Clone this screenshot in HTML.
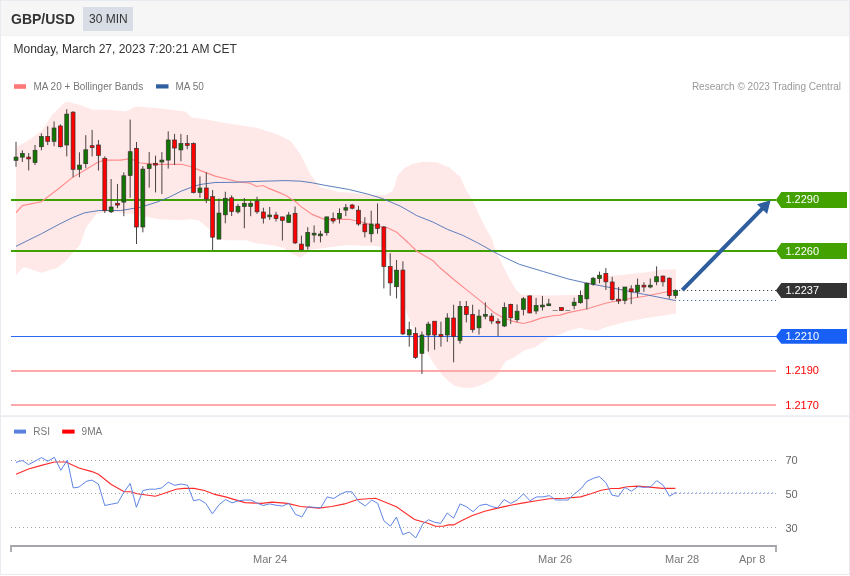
<!DOCTYPE html>
<html><head><meta charset="utf-8"><title>GBP/USD</title>
<style>html,body{margin:0;padding:0;background:#fff;width:850px;height:576px;overflow:hidden}svg{display:block;will-change:transform}text{font-family:"Liberation Sans",sans-serif}</style>
</head><body>
<svg width="850" height="576" viewBox="0 0 850 576" font-family="Liberation Sans, sans-serif">
<rect x="0" y="0" width="850" height="576" fill="#ffffff"/>
<rect x="0" y="0" width="850" height="36" fill="#f6f6f6"/>
<rect x="0" y="35" width="850" height="1" fill="#f1f2f3"/>
<rect x="83" y="7" width="50" height="24" fill="#d9dde5"/>
<text x="11" y="23.5" font-size="14" font-weight="bold" fill="#333">GBP/USD</text>
<text x="89" y="23" font-size="12" fill="#333">30 MIN</text>
<text x="13.5" y="53" font-size="12" fill="#333">Monday, March 27, 2023 7:20:21 AM CET</text>
<rect x="0.5" y="0.5" width="849" height="574" fill="none" stroke="#e8ecf0" stroke-width="1"/>
<rect x="1" y="415.3" width="848" height="1.7" fill="#e9edf1"/>
<rect x="14" y="84.2" width="12" height="4.6" fill="#ff7878"/>
<text x="33.4" y="89.7" font-size="10" fill="#777">MA 20 + Bollinger Bands</text>
<rect x="156" y="84.3" width="12.5" height="4.2" fill="#2f5f9f"/>
<text x="175.5" y="89.7" font-size="10" fill="#777">MA 50</text>
<text x="841" y="89.7" font-size="10" fill="#999" text-anchor="end">Research © 2023 Trading Central</text>
<polygon points="16.0,147.0 23.9,143.0 33.6,136.8 42.0,130.6 47.0,123.0 51.7,115.3 57.2,109.7 62.0,105.0 66.6,101.5 79.8,104.9 92.9,109.8 109.4,109.8 125.9,111.5 135.8,106.5 158.8,108.2 185.2,111.5 191.8,117.4 208.2,119.7 224.7,123.0 257.6,127.9 277.4,134.5 290.6,141.1 300.4,154.3 310.3,174.0 320.2,187.2 340.0,192.2 348.6,192.5 372.9,195.0 385.1,195.0 392.4,191.3 395.0,185.0 397.4,176.0 403.9,168.2 412.6,163.9 423.4,161.7 436.4,162.2 449.4,167.4 460.3,176.9 465.9,190.0 472.5,199.9 479.1,214.7 485.7,227.9 492.3,239.4 495.0,249.7 502.3,264.3 509.6,278.9 516.9,291.0 521.7,294.7 531.8,294.8 549.1,295.4 568.2,295.0 580.5,295.0 586.8,282.0 596.8,278.2 606.4,276.3 625.5,274.4 644.6,272.5 663.7,269.6 676.0,269.6 676.0,313.5 663.7,315.4 644.6,318.3 625.5,322.1 606.4,326.9 596.8,330.7 587.3,329.7 579.6,327.8 568.2,330.7 560.0,334.5 550.1,337.0 541.9,342.4 535.3,347.3 523.8,350.6 515.6,356.4 505.7,361.3 502.4,366.2 499.1,372.8 492.5,379.4 482.6,384.4 472.7,387.7 462.8,387.7 454.6,386.0 449.7,382.0 441.4,374.0 433.0,362.5 422.1,343.0 411.7,326.0 403.9,305.1 397.0,282.0 390.0,262.0 383.2,249.6 380.6,247.0 374.1,245.7 361.2,245.7 348.2,245.1 335.3,246.4 322.4,248.3 310.7,249.6 308.1,252.8 300.4,257.4 290.0,252.8 283.5,247.7 274.1,245.8 264.7,244.3 255.3,243.0 245.9,240.2 227.0,240.2 217.6,238.3 208.2,228.0 198.8,220.4 189.4,219.1 181.5,220.2 157.2,219.0 133.0,214.0 108.6,211.7 96.5,214.0 86.1,227.2 80.0,244.7 64.7,261.9 56.9,268.0 41.3,272.8 25.0,267.3 22.5,268.1 16.0,275.2" fill="#ffe8e8"/>
<rect x="11" y="199" width="765" height="2" fill="#40a000"/>
<rect x="11" y="250" width="765" height="2" fill="#40a000"/>
<rect x="11" y="336" width="765" height="1" fill="#2a6af2"/>
<rect x="11" y="370" width="765" height="2" fill="#ffaaaa"/>
<rect x="11" y="404" width="765" height="2" fill="#ffaaaa"/>
<polyline points="16.0,212.5 22.5,205.6 41.3,201.7 56.9,190.0 72.2,177.6 84.3,170.4 96.5,163.0 103.8,160.1 120.8,160.1 130.5,158.7 140.2,163.0 157.2,164.3 181.5,164.3 191.3,166.7 200.0,170.4 215.2,176.1 236.7,181.5 250.0,183.2 256.6,186.5 263.2,185.5 268.8,188.4 278.2,192.1 285.4,195.2 296.7,202.5 300.0,205.9 312.2,214.4 324.3,219.3 348.6,219.3 360.8,221.7 372.9,225.4 387.5,227.8 397.2,232.6 400.0,235.3 408.2,242.7 416.5,251.0 433.0,260.8 440.0,267.8 454.1,279.8 468.2,291.1 482.4,302.4 493.6,312.2 503.5,317.9 513.4,321.4 523.3,323.5 531.8,321.4 541.6,317.9 552.9,315.8 560.0,315.1 568.2,312.6 587.3,308.7 606.4,303.0 625.5,299.2 644.6,296.3 663.7,292.5 676.0,290.0" fill="none" stroke="#ff8c8c" stroke-width="1.15"/>
<polyline points="16.0,246.3 41.3,233.8 60.0,223.8 72.2,217.8 84.3,212.9 98.9,210.5 120.8,210.5 140.2,207.3 157.2,202.0 169.4,197.1 181.5,191.0 191.3,187.4 200.0,184.5 215.0,182.5 235.0,182.3 260.0,181.3 285.0,180.6 300.0,181.1 312.2,182.8 324.3,185.2 348.6,189.4 368.1,194.2 382.6,198.6 400.0,206.0 408.2,210.6 416.5,215.5 433.0,222.1 447.8,229.5 462.6,235.3 477.4,242.7 492.3,251.0 502.1,256.2 519.3,264.3 543.6,271.6 567.9,278.9 587.4,283.3 606.4,286.8 625.5,290.6 644.6,294.4 663.7,298.2 676.0,300.7" fill="none" stroke="#4a72b5" stroke-width="0.9"/>
<line x1="16.00" y1="141.8" x2="16.00" y2="166.8" stroke="#4a4242" stroke-width="1"/>
<rect x="14.05" y="157.1" width="3.9" height="3.2" fill="#107800" stroke="#3a3030" stroke-width="0.7"/>
<line x1="22.34" y1="150.3" x2="22.34" y2="162.0" stroke="#4a4242" stroke-width="1"/>
<rect x="20.39" y="153.5" width="3.9" height="3.6" fill="#107800" stroke="#3a3030" stroke-width="0.7"/>
<line x1="28.69" y1="153.0" x2="28.69" y2="170.5" stroke="#4a4242" stroke-width="1"/>
<rect x="26.74" y="157.1" width="3.9" height="1.8" fill="#ff0000" stroke="#3a3030" stroke-width="0.7"/>
<line x1="35.03" y1="145.0" x2="35.03" y2="165.0" stroke="#4a4242" stroke-width="1"/>
<rect x="33.08" y="150.3" width="3.9" height="12.2" fill="#107800" stroke="#3a3030" stroke-width="0.7"/>
<line x1="41.37" y1="133.3" x2="41.37" y2="150.3" stroke="#4a4242" stroke-width="1"/>
<rect x="39.42" y="136.5" width="3.9" height="10.2" fill="#107800" stroke="#3a3030" stroke-width="0.7"/>
<line x1="47.71" y1="126.3" x2="47.71" y2="145.0" stroke="#4a4242" stroke-width="1"/>
<rect x="45.76" y="136.5" width="3.9" height="4.8" fill="#ff0000" stroke="#3a3030" stroke-width="0.7"/>
<line x1="54.06" y1="121.4" x2="54.06" y2="146.2" stroke="#4a4242" stroke-width="1"/>
<rect x="52.11" y="128.0" width="3.9" height="13.3" fill="#107800" stroke="#3a3030" stroke-width="0.7"/>
<line x1="60.40" y1="124.3" x2="60.40" y2="147.4" stroke="#4a4242" stroke-width="1"/>
<rect x="58.45" y="126.0" width="3.9" height="20.7" fill="#ff0000" stroke="#3a3030" stroke-width="0.7"/>
<line x1="66.74" y1="109.2" x2="66.74" y2="156.4" stroke="#4a4242" stroke-width="1"/>
<rect x="64.79" y="114.1" width="3.9" height="30.9" fill="#107800" stroke="#3a3030" stroke-width="0.7"/>
<line x1="73.08" y1="111.0" x2="73.08" y2="177.3" stroke="#4a4242" stroke-width="1"/>
<rect x="71.13" y="112.2" width="3.9" height="57.1" fill="#ff0000" stroke="#3a3030" stroke-width="0.7"/>
<line x1="79.43" y1="152.3" x2="79.43" y2="177.3" stroke="#4a4242" stroke-width="1"/>
<rect x="77.48" y="165.1" width="3.9" height="4.2" fill="#107800" stroke="#3a3030" stroke-width="0.7"/>
<line x1="85.77" y1="135.2" x2="85.77" y2="168.1" stroke="#4a4242" stroke-width="1"/>
<rect x="83.82" y="149.8" width="3.9" height="13.9" fill="#107800" stroke="#3a3030" stroke-width="0.7"/>
<line x1="92.11" y1="129.9" x2="92.11" y2="156.4" stroke="#4a4242" stroke-width="1"/>
<rect x="90.16" y="145.7" width="3.9" height="1.8" fill="#ff0000" stroke="#3a3030" stroke-width="0.7"/>
<line x1="98.45" y1="140.1" x2="98.45" y2="170.5" stroke="#4a4242" stroke-width="1"/>
<rect x="96.50" y="145.0" width="3.9" height="10.4" fill="#ff0000" stroke="#3a3030" stroke-width="0.7"/>
<line x1="104.80" y1="156.4" x2="104.80" y2="213.0" stroke="#4a4242" stroke-width="1"/>
<rect x="102.85" y="158.3" width="3.9" height="52.3" fill="#ff0000" stroke="#3a3030" stroke-width="0.7"/>
<line x1="111.14" y1="179.0" x2="111.14" y2="213.0" stroke="#4a4242" stroke-width="1"/>
<rect x="109.19" y="207.0" width="3.9" height="4.8" fill="#107800" stroke="#3a3030" stroke-width="0.7"/>
<line x1="117.48" y1="183.9" x2="117.48" y2="208.2" stroke="#4a4242" stroke-width="1"/>
<rect x="115.53" y="203.3" width="3.9" height="1.8" fill="#ff0000" stroke="#3a3030" stroke-width="0.7"/>
<line x1="123.82" y1="172.4" x2="123.82" y2="216.2" stroke="#4a4242" stroke-width="1"/>
<rect x="121.87" y="175.8" width="3.9" height="26.3" fill="#107800" stroke="#3a3030" stroke-width="0.7"/>
<line x1="130.17" y1="119.6" x2="130.17" y2="197.8" stroke="#4a4242" stroke-width="1"/>
<rect x="128.22" y="151.7" width="3.9" height="23.7" fill="#107800" stroke="#3a3030" stroke-width="0.7"/>
<line x1="136.51" y1="142.0" x2="136.51" y2="244.0" stroke="#4a4242" stroke-width="1"/>
<rect x="134.56" y="148.4" width="3.9" height="78.6" fill="#ff0000" stroke="#3a3030" stroke-width="0.7"/>
<line x1="142.85" y1="166.2" x2="142.85" y2="232.3" stroke="#4a4242" stroke-width="1"/>
<rect x="140.90" y="169.1" width="3.9" height="57.9" fill="#107800" stroke="#3a3030" stroke-width="0.7"/>
<line x1="149.19" y1="152.1" x2="149.19" y2="187.6" stroke="#4a4242" stroke-width="1"/>
<rect x="147.24" y="164.2" width="3.9" height="4.4" fill="#107800" stroke="#3a3030" stroke-width="0.7"/>
<line x1="155.54" y1="155.7" x2="155.54" y2="192.4" stroke="#4a4242" stroke-width="1"/>
<rect x="153.59" y="163.3" width="3.9" height="1.8" fill="#ff0000" stroke="#3a3030" stroke-width="0.7"/>
<line x1="161.88" y1="152.1" x2="161.88" y2="194.1" stroke="#4a4242" stroke-width="1"/>
<rect x="159.93" y="160.1" width="3.9" height="1.9" fill="#107800" stroke="#3a3030" stroke-width="0.7"/>
<line x1="168.22" y1="131.4" x2="168.22" y2="168.6" stroke="#4a4242" stroke-width="1"/>
<rect x="166.27" y="140.0" width="3.9" height="20.1" fill="#107800" stroke="#3a3030" stroke-width="0.7"/>
<line x1="174.56" y1="133.9" x2="174.56" y2="165.0" stroke="#4a4242" stroke-width="1"/>
<rect x="172.62" y="140.0" width="3.9" height="8.0" fill="#ff0000" stroke="#3a3030" stroke-width="0.7"/>
<line x1="180.91" y1="133.9" x2="180.91" y2="161.3" stroke="#4a4242" stroke-width="1"/>
<rect x="178.96" y="143.6" width="3.9" height="6.3" fill="#107800" stroke="#3a3030" stroke-width="0.7"/>
<line x1="187.25" y1="135.0" x2="187.25" y2="149.2" stroke="#4a4242" stroke-width="1"/>
<rect x="185.30" y="143.6" width="3.9" height="1.8" fill="#ff0000" stroke="#3a3030" stroke-width="0.7"/>
<line x1="193.59" y1="142.4" x2="193.59" y2="193.4" stroke="#4a4242" stroke-width="1"/>
<rect x="191.64" y="143.6" width="3.9" height="48.8" fill="#ff0000" stroke="#3a3030" stroke-width="0.7"/>
<line x1="199.94" y1="176.4" x2="199.94" y2="197.8" stroke="#4a4242" stroke-width="1"/>
<rect x="197.99" y="188.0" width="3.9" height="4.4" fill="#107800" stroke="#3a3030" stroke-width="0.7"/>
<line x1="206.28" y1="172.3" x2="206.28" y2="203.1" stroke="#4a4242" stroke-width="1"/>
<rect x="204.33" y="188.0" width="3.9" height="11.0" fill="#ff0000" stroke="#3a3030" stroke-width="0.7"/>
<line x1="212.62" y1="190.0" x2="212.62" y2="250.0" stroke="#4a4242" stroke-width="1"/>
<rect x="210.67" y="196.6" width="3.9" height="40.6" fill="#ff0000" stroke="#3a3030" stroke-width="0.7"/>
<line x1="218.96" y1="198.5" x2="218.96" y2="239.1" stroke="#4a4242" stroke-width="1"/>
<rect x="217.01" y="213.1" width="3.9" height="26.0" fill="#107800" stroke="#3a3030" stroke-width="0.7"/>
<line x1="225.31" y1="191.7" x2="225.31" y2="223.3" stroke="#4a4242" stroke-width="1"/>
<rect x="223.36" y="198.3" width="3.9" height="16.5" fill="#107800" stroke="#3a3030" stroke-width="0.7"/>
<line x1="231.65" y1="195.4" x2="231.65" y2="216.0" stroke="#4a4242" stroke-width="1"/>
<rect x="229.70" y="197.8" width="3.9" height="13.8" fill="#ff0000" stroke="#3a3030" stroke-width="0.7"/>
<line x1="237.99" y1="203.9" x2="237.99" y2="213.6" stroke="#4a4242" stroke-width="1"/>
<rect x="236.04" y="206.3" width="3.9" height="5.6" fill="#107800" stroke="#3a3030" stroke-width="0.7"/>
<line x1="244.33" y1="198.0" x2="244.33" y2="228.3" stroke="#4a4242" stroke-width="1"/>
<rect x="242.38" y="203.3" width="3.9" height="3.2" fill="#107800" stroke="#3a3030" stroke-width="0.7"/>
<line x1="250.68" y1="200.9" x2="250.68" y2="216.2" stroke="#4a4242" stroke-width="1"/>
<rect x="248.73" y="203.3" width="3.9" height="3.2" fill="#107800" stroke="#3a3030" stroke-width="0.7"/>
<line x1="257.02" y1="196.7" x2="257.02" y2="213.8" stroke="#4a4242" stroke-width="1"/>
<rect x="255.07" y="201.1" width="3.9" height="10.7" fill="#ff0000" stroke="#3a3030" stroke-width="0.7"/>
<line x1="263.36" y1="207.7" x2="263.36" y2="223.5" stroke="#4a4242" stroke-width="1"/>
<rect x="261.41" y="212.0" width="3.9" height="6.1" fill="#ff0000" stroke="#3a3030" stroke-width="0.7"/>
<line x1="269.70" y1="207.0" x2="269.70" y2="219.8" stroke="#4a4242" stroke-width="1"/>
<rect x="267.75" y="215.0" width="3.9" height="1.8" fill="#107800" stroke="#3a3030" stroke-width="0.7"/>
<line x1="276.05" y1="211.8" x2="276.05" y2="221.5" stroke="#4a4242" stroke-width="1"/>
<rect x="274.10" y="215.0" width="3.9" height="3.6" fill="#ff0000" stroke="#3a3030" stroke-width="0.7"/>
<line x1="282.39" y1="216.9" x2="282.39" y2="240.5" stroke="#4a4242" stroke-width="1"/>
<rect x="280.44" y="216.9" width="3.9" height="3.4" fill="#ff0000" stroke="#3a3030" stroke-width="0.7"/>
<line x1="288.73" y1="211.8" x2="288.73" y2="223.0" stroke="#4a4242" stroke-width="1"/>
<rect x="286.78" y="215.0" width="3.9" height="7.3" fill="#107800" stroke="#3a3030" stroke-width="0.7"/>
<line x1="295.07" y1="206.5" x2="295.07" y2="244.1" stroke="#4a4242" stroke-width="1"/>
<rect x="293.12" y="213.3" width="3.9" height="29.6" fill="#ff0000" stroke="#3a3030" stroke-width="0.7"/>
<line x1="301.42" y1="235.6" x2="301.42" y2="250.2" stroke="#4a4242" stroke-width="1"/>
<rect x="299.47" y="244.1" width="3.9" height="5.6" fill="#ff0000" stroke="#3a3030" stroke-width="0.7"/>
<line x1="307.76" y1="227.1" x2="307.76" y2="249.7" stroke="#4a4242" stroke-width="1"/>
<rect x="305.81" y="232.5" width="3.9" height="13.6" fill="#107800" stroke="#3a3030" stroke-width="0.7"/>
<line x1="314.10" y1="225.4" x2="314.10" y2="242.4" stroke="#4a4242" stroke-width="1"/>
<rect x="312.15" y="233.2" width="3.9" height="1.8" fill="#107800" stroke="#3a3030" stroke-width="0.7"/>
<line x1="320.44" y1="230.8" x2="320.44" y2="242.4" stroke="#4a4242" stroke-width="1"/>
<rect x="318.49" y="234.0" width="3.9" height="1.8" fill="#107800" stroke="#3a3030" stroke-width="0.7"/>
<line x1="326.79" y1="216.7" x2="326.79" y2="235.6" stroke="#4a4242" stroke-width="1"/>
<rect x="324.84" y="216.9" width="3.9" height="15.8" fill="#107800" stroke="#3a3030" stroke-width="0.7"/>
<line x1="333.13" y1="212.5" x2="333.13" y2="223.5" stroke="#4a4242" stroke-width="1"/>
<rect x="331.18" y="218.6" width="3.9" height="2.4" fill="#ff0000" stroke="#3a3030" stroke-width="0.7"/>
<line x1="339.47" y1="208.4" x2="339.47" y2="223.5" stroke="#4a4242" stroke-width="1"/>
<rect x="337.52" y="213.3" width="3.9" height="5.3" fill="#107800" stroke="#3a3030" stroke-width="0.7"/>
<line x1="345.82" y1="204.0" x2="345.82" y2="216.2" stroke="#4a4242" stroke-width="1"/>
<rect x="343.87" y="207.7" width="3.9" height="2.4" fill="#107800" stroke="#3a3030" stroke-width="0.7"/>
<line x1="352.16" y1="203.9" x2="352.16" y2="209.4" stroke="#4a4242" stroke-width="1"/>
<rect x="350.21" y="205.0" width="3.9" height="3.2" fill="#ff0000" stroke="#3a3030" stroke-width="0.7"/>
<line x1="358.50" y1="205.8" x2="358.50" y2="225.7" stroke="#4a4242" stroke-width="1"/>
<rect x="356.55" y="210.2" width="3.9" height="13.8" fill="#ff0000" stroke="#3a3030" stroke-width="0.7"/>
<line x1="364.84" y1="217.2" x2="364.84" y2="237.4" stroke="#4a4242" stroke-width="1"/>
<rect x="362.89" y="224.0" width="3.9" height="7.8" fill="#ff0000" stroke="#3a3030" stroke-width="0.7"/>
<line x1="371.19" y1="210.7" x2="371.19" y2="242.3" stroke="#4a4242" stroke-width="1"/>
<rect x="369.24" y="224.0" width="3.9" height="9.8" fill="#107800" stroke="#3a3030" stroke-width="0.7"/>
<line x1="377.53" y1="203.4" x2="377.53" y2="233.8" stroke="#4a4242" stroke-width="1"/>
<rect x="375.58" y="224.0" width="3.9" height="4.4" fill="#ff0000" stroke="#3a3030" stroke-width="0.7"/>
<line x1="383.87" y1="226.0" x2="383.87" y2="288.4" stroke="#4a4242" stroke-width="1"/>
<rect x="381.92" y="227.0" width="3.9" height="39.6" fill="#ff0000" stroke="#3a3030" stroke-width="0.7"/>
<line x1="390.21" y1="253.2" x2="390.21" y2="295.7" stroke="#4a4242" stroke-width="1"/>
<rect x="388.26" y="266.6" width="3.9" height="16.3" fill="#ff0000" stroke="#3a3030" stroke-width="0.7"/>
<line x1="396.56" y1="260.0" x2="396.56" y2="298.4" stroke="#4a4242" stroke-width="1"/>
<rect x="394.61" y="270.2" width="3.9" height="16.5" fill="#107800" stroke="#3a3030" stroke-width="0.7"/>
<line x1="402.90" y1="261.3" x2="402.90" y2="335.0" stroke="#4a4242" stroke-width="1"/>
<rect x="400.95" y="270.1" width="3.9" height="63.8" fill="#ff0000" stroke="#3a3030" stroke-width="0.7"/>
<line x1="409.24" y1="321.7" x2="409.24" y2="346.7" stroke="#4a4242" stroke-width="1"/>
<rect x="407.29" y="329.7" width="3.9" height="5.3" fill="#107800" stroke="#3a3030" stroke-width="0.7"/>
<line x1="415.58" y1="327.3" x2="415.58" y2="358.9" stroke="#4a4242" stroke-width="1"/>
<rect x="413.63" y="333.4" width="3.9" height="24.0" fill="#ff0000" stroke="#3a3030" stroke-width="0.7"/>
<line x1="421.93" y1="331.4" x2="421.93" y2="374.0" stroke="#4a4242" stroke-width="1"/>
<rect x="419.98" y="335.0" width="3.9" height="18.3" fill="#107800" stroke="#3a3030" stroke-width="0.7"/>
<line x1="428.27" y1="321.7" x2="428.27" y2="351.6" stroke="#4a4242" stroke-width="1"/>
<rect x="426.32" y="324.1" width="3.9" height="10.9" fill="#107800" stroke="#3a3030" stroke-width="0.7"/>
<line x1="434.61" y1="321.2" x2="434.61" y2="349.7" stroke="#4a4242" stroke-width="1"/>
<rect x="432.66" y="321.2" width="3.9" height="13.8" fill="#ff0000" stroke="#3a3030" stroke-width="0.7"/>
<line x1="440.95" y1="321.7" x2="440.95" y2="346.7" stroke="#4a4242" stroke-width="1"/>
<rect x="439.00" y="334.6" width="3.9" height="1.8" fill="#ff0000" stroke="#3a3030" stroke-width="0.7"/>
<line x1="447.30" y1="313.2" x2="447.30" y2="341.9" stroke="#4a4242" stroke-width="1"/>
<rect x="445.35" y="318.0" width="3.9" height="17.0" fill="#107800" stroke="#3a3030" stroke-width="0.7"/>
<line x1="453.64" y1="304.7" x2="453.64" y2="362.3" stroke="#4a4242" stroke-width="1"/>
<rect x="451.69" y="318.0" width="3.9" height="18.3" fill="#ff0000" stroke="#3a3030" stroke-width="0.7"/>
<line x1="459.98" y1="301.0" x2="459.98" y2="343.6" stroke="#4a4242" stroke-width="1"/>
<rect x="458.03" y="306.4" width="3.9" height="34.0" fill="#107800" stroke="#3a3030" stroke-width="0.7"/>
<line x1="466.32" y1="301.0" x2="466.32" y2="322.4" stroke="#4a4242" stroke-width="1"/>
<rect x="464.37" y="306.4" width="3.9" height="8.0" fill="#ff0000" stroke="#3a3030" stroke-width="0.7"/>
<line x1="472.67" y1="304.7" x2="472.67" y2="332.6" stroke="#4a4242" stroke-width="1"/>
<rect x="470.72" y="314.4" width="3.9" height="15.3" fill="#ff0000" stroke="#3a3030" stroke-width="0.7"/>
<line x1="479.01" y1="309.6" x2="479.01" y2="334.6" stroke="#4a4242" stroke-width="1"/>
<rect x="477.06" y="316.1" width="3.9" height="11.7" fill="#107800" stroke="#3a3030" stroke-width="0.7"/>
<line x1="485.35" y1="302.3" x2="485.35" y2="319.3" stroke="#4a4242" stroke-width="1"/>
<rect x="483.40" y="314.4" width="3.9" height="1.8" fill="#107800" stroke="#3a3030" stroke-width="0.7"/>
<line x1="491.69" y1="313.2" x2="491.69" y2="324.1" stroke="#4a4242" stroke-width="1"/>
<rect x="489.75" y="316.1" width="3.9" height="4.9" fill="#ff0000" stroke="#3a3030" stroke-width="0.7"/>
<line x1="498.04" y1="318.4" x2="498.04" y2="336.2" stroke="#4a4242" stroke-width="1"/>
<rect x="496.09" y="321.3" width="3.9" height="1.8" fill="#ff0000" stroke="#3a3030" stroke-width="0.7"/>
<line x1="504.38" y1="302.5" x2="504.38" y2="327.0" stroke="#4a4242" stroke-width="1"/>
<rect x="502.43" y="307.6" width="3.9" height="18.4" fill="#107800" stroke="#3a3030" stroke-width="0.7"/>
<line x1="510.72" y1="303.7" x2="510.72" y2="323.9" stroke="#4a4242" stroke-width="1"/>
<rect x="508.77" y="304.4" width="3.9" height="13.4" fill="#ff0000" stroke="#3a3030" stroke-width="0.7"/>
<line x1="517.07" y1="304.4" x2="517.07" y2="322.2" stroke="#4a4242" stroke-width="1"/>
<rect x="515.12" y="311.2" width="3.9" height="8.5" fill="#107800" stroke="#3a3030" stroke-width="0.7"/>
<line x1="523.41" y1="297.1" x2="523.41" y2="315.4" stroke="#4a4242" stroke-width="1"/>
<rect x="521.46" y="298.8" width="3.9" height="10.5" fill="#107800" stroke="#3a3030" stroke-width="0.7"/>
<line x1="529.75" y1="295.4" x2="529.75" y2="313.4" stroke="#4a4242" stroke-width="1"/>
<rect x="527.80" y="295.9" width="3.9" height="17.0" fill="#ff0000" stroke="#3a3030" stroke-width="0.7"/>
<line x1="536.09" y1="297.9" x2="536.09" y2="314.1" stroke="#4a4242" stroke-width="1"/>
<rect x="534.14" y="305.6" width="3.9" height="5.4" fill="#107800" stroke="#3a3030" stroke-width="0.7"/>
<line x1="542.44" y1="295.9" x2="542.44" y2="310.5" stroke="#4a4242" stroke-width="1"/>
<rect x="540.49" y="305.1" width="3.9" height="1.8" fill="#107800" stroke="#3a3030" stroke-width="0.7"/>
<line x1="548.78" y1="298.8" x2="548.78" y2="306.1" stroke="#4a4242" stroke-width="1"/>
<rect x="546.83" y="303.9" width="3.9" height="1.8" fill="#107800" stroke="#3a3030" stroke-width="0.7"/>
<line x1="552.62" y1="310.5" x2="557.62" y2="310.5" stroke="#8a8a8a" stroke-width="1"/>
<line x1="561.46" y1="307.6" x2="561.46" y2="311.0" stroke="#4a4242" stroke-width="1"/>
<rect x="559.51" y="307.6" width="3.9" height="2.9" fill="#ff0000" stroke="#3a3030" stroke-width="0.7"/>
<line x1="565.31" y1="310.5" x2="570.31" y2="310.5" stroke="#8a8a8a" stroke-width="1"/>
<line x1="574.15" y1="297.6" x2="574.15" y2="309.3" stroke="#4a4242" stroke-width="1"/>
<rect x="572.20" y="302.2" width="3.9" height="3.4" fill="#107800" stroke="#3a3030" stroke-width="0.7"/>
<line x1="580.49" y1="290.6" x2="580.49" y2="303.7" stroke="#4a4242" stroke-width="1"/>
<rect x="578.54" y="295.4" width="3.9" height="7.3" fill="#107800" stroke="#3a3030" stroke-width="0.7"/>
<line x1="586.83" y1="282.5" x2="586.83" y2="309.3" stroke="#4a4242" stroke-width="1"/>
<rect x="584.88" y="283.3" width="3.9" height="15.5" fill="#107800" stroke="#3a3030" stroke-width="0.7"/>
<line x1="593.18" y1="277.0" x2="593.18" y2="285.7" stroke="#4a4242" stroke-width="1"/>
<rect x="591.23" y="278.2" width="3.9" height="6.0" fill="#107800" stroke="#3a3030" stroke-width="0.7"/>
<line x1="599.52" y1="271.6" x2="599.52" y2="283.3" stroke="#4a4242" stroke-width="1"/>
<rect x="597.57" y="275.2" width="3.9" height="3.2" fill="#107800" stroke="#3a3030" stroke-width="0.7"/>
<line x1="605.86" y1="268.1" x2="605.86" y2="290.0" stroke="#4a4242" stroke-width="1"/>
<rect x="603.91" y="273.4" width="3.9" height="8.4" fill="#ff0000" stroke="#3a3030" stroke-width="0.7"/>
<line x1="612.20" y1="276.8" x2="612.20" y2="300.6" stroke="#4a4242" stroke-width="1"/>
<rect x="610.25" y="282.0" width="3.9" height="17.4" fill="#ff0000" stroke="#3a3030" stroke-width="0.7"/>
<line x1="618.55" y1="287.0" x2="618.55" y2="304.1" stroke="#4a4242" stroke-width="1"/>
<rect x="616.60" y="299.2" width="3.9" height="1.8" fill="#ff0000" stroke="#3a3030" stroke-width="0.7"/>
<line x1="624.89" y1="287.0" x2="624.89" y2="304.1" stroke="#4a4242" stroke-width="1"/>
<rect x="622.94" y="287.0" width="3.9" height="13.4" fill="#107800" stroke="#3a3030" stroke-width="0.7"/>
<line x1="631.23" y1="285.2" x2="631.23" y2="304.1" stroke="#4a4242" stroke-width="1"/>
<rect x="629.28" y="288.9" width="3.9" height="3.0" fill="#ff0000" stroke="#3a3030" stroke-width="0.7"/>
<line x1="637.57" y1="278.6" x2="637.57" y2="297.4" stroke="#4a4242" stroke-width="1"/>
<rect x="635.62" y="285.2" width="3.9" height="6.7" fill="#107800" stroke="#3a3030" stroke-width="0.7"/>
<line x1="643.92" y1="282.2" x2="643.92" y2="291.9" stroke="#4a4242" stroke-width="1"/>
<rect x="641.97" y="285.2" width="3.9" height="1.8" fill="#ff0000" stroke="#3a3030" stroke-width="0.7"/>
<line x1="650.26" y1="278.6" x2="650.26" y2="288.3" stroke="#4a4242" stroke-width="1"/>
<rect x="648.31" y="285.2" width="3.9" height="1.8" fill="#107800" stroke="#3a3030" stroke-width="0.7"/>
<line x1="656.60" y1="266.4" x2="656.60" y2="285.2" stroke="#4a4242" stroke-width="1"/>
<rect x="654.65" y="276.7" width="3.9" height="5.1" fill="#107800" stroke="#3a3030" stroke-width="0.7"/>
<line x1="662.95" y1="275.5" x2="662.95" y2="286.5" stroke="#4a4242" stroke-width="1"/>
<rect x="661.00" y="276.1" width="3.9" height="5.7" fill="#ff0000" stroke="#3a3030" stroke-width="0.7"/>
<line x1="669.29" y1="277.3" x2="669.29" y2="298.6" stroke="#4a4242" stroke-width="1"/>
<rect x="667.34" y="278.2" width="3.9" height="17.4" fill="#ff0000" stroke="#3a3030" stroke-width="0.7"/>
<line x1="675.63" y1="289.5" x2="675.63" y2="298.6" stroke="#4a4242" stroke-width="1"/>
<rect x="673.68" y="290.5" width="3.9" height="5.1" fill="#107800" stroke="#3a3030" stroke-width="0.7"/>
<line x1="679" y1="290.5" x2="776" y2="290.5" stroke="#444" stroke-width="1" stroke-dasharray="1.2,2.8"/>
<line x1="679" y1="300.5" x2="776" y2="300.5" stroke="#3a68ad" stroke-width="1" stroke-dasharray="1.2,2.8"/>
<line x1="682.3" y1="290.1" x2="764" y2="207" stroke="#2e5e9e" stroke-width="4"/>
<polygon points="770.6,200.3 757,204.2 767.1,214" fill="#2e5e9e"/>
<polygon points="775.8,200 781.3,192 847,192 847,208 781.3,208" fill="#44a200"/>
<text x="785.4" y="202.9" font-size="11" fill="#fff">1.2290</text>
<polygon points="775.8,251 781.3,243 847,243 847,259 781.3,259" fill="#44a200"/>
<text x="785.4" y="254.9" font-size="11" fill="#fff">1.2260</text>
<polygon points="775.8,290.5 781.3,283.1 847,283.1 847,297.9 781.3,297.9" fill="#333333"/>
<text x="785.4" y="294.2" font-size="11" fill="#fff">1.2237</text>
<polygon points="775.8,336.4 781.3,329.0 847,329.0 847,343.79999999999995 781.3,343.79999999999995" fill="#175ff5"/>
<text x="785.4" y="340.0" font-size="11" fill="#fff">1.2210</text>
<text x="785.3" y="374.0" font-size="11" fill="#f00">1.2190</text>
<text x="785.3" y="409" font-size="11" fill="#f00">1.2170</text>
<rect x="14" y="429.6" width="12" height="4" fill="#5a82dc"/>
<text x="33.3" y="435.2" font-size="10" fill="#777">RSI</text>
<rect x="62.2" y="429.6" width="12.4" height="4" fill="#f00"/>
<text x="81.6" y="435.2" font-size="10" fill="#777">9MA</text>
<line x1="11" y1="460.5" x2="776" y2="460.5" stroke="#a8a8a8" stroke-width="1" stroke-dasharray="1,3"/>
<line x1="11" y1="493.5" x2="776" y2="493.5" stroke="#a8a8a8" stroke-width="1" stroke-dasharray="1,3"/>
<line x1="11" y1="527.5" x2="776" y2="527.5" stroke="#a8a8a8" stroke-width="1" stroke-dasharray="1,3"/>
<text x="785.4" y="464.2" font-size="11" fill="#666">70</text>
<text x="785.4" y="497.8" font-size="11" fill="#666">50</text>
<text x="785.4" y="531.5" font-size="11" fill="#666">30</text>
<polyline points="16.0,474.2 28.5,469.0 41.4,465.4 54.4,462.0 66.0,462.0 78.9,468.0 91.9,471.6 98.4,474.2 111.3,484.5 124.2,491.8 130.7,491.8 137.2,493.8 155.3,496.2 163.0,493.8 176.0,489.2 183.8,488.4 194.1,488.4 204.5,490.5 214.8,494.4 225.5,496.9 244.9,502.6 261.8,503.4 272.1,502.1 287.6,503.4 300.6,506.5 318.7,508.1 331.6,506.5 344.6,503.9 357.5,499.5 375.6,498.2 396.4,506.8 414.5,519.5 427.8,523.3 435.5,526.2 443.3,526.2 448.5,524.9 453.6,524.9 461.4,520.8 471.8,515.8 484.7,511.2 497.6,508.1 510.6,505.2 523.5,502.9 536.5,500.8 549.4,498.8 564.9,498.2 580.5,496.9 590.8,493.8 601.2,490.2 611.5,488.5 619.3,488.4 627.1,486.8 637.9,486.1 649.5,487.1 662.5,488.4 675.4,488.4" fill="none" stroke="#ff2a2a" stroke-width="1.1"/>
<polyline points="16.0,462.5 19.4,461.2 22.8,460.7 28.5,464.6 34.9,461.2 41.4,457.6 47.9,461.2 54.4,457.3 60.8,470.3 67.3,460.2 73.2,487.9 78.9,487.1 86.2,481.4 91.9,480.1 98.4,484.0 104.8,505.5 111.3,504.2 117.8,502.9 124.2,491.8 130.2,483.5 136.4,507.3 142.9,490.5 149.6,489.2 155.3,489.2 161.8,487.9 168.2,482.2 174.7,485.3 181.2,484.0 187.6,485.3 193.6,500.8 199.3,499.5 205.8,503.4 212.4,513.8 219.1,504.7 225.5,499.5 232.0,502.9 238.5,500.8 244.9,500.0 250.9,500.0 256.6,502.9 263.1,505.5 269.5,503.9 276.0,505.2 282.5,506.0 288.9,503.4 295.4,514.3 301.9,516.9 307.8,506.8 314.3,507.3 320.8,507.8 327.2,496.9 333.7,498.5 340.2,494.4 345.9,491.8 351.8,491.8 358.8,501.6 365.3,506.0 371.8,500.0 377.7,503.4 383.9,520.8 390.4,526.2 396.4,517.1 402.8,534.5 409.3,532.1 415.8,537.8 420.5,529.0 422.6,524.1 428.5,519.7 434.8,522.3 440.7,523.3 447.2,513.0 453.6,518.2 460.1,503.9 466.6,506.8 473.1,511.7 479.5,505.5 486.0,504.2 492.5,506.8 497.6,507.8 504.1,499.5 510.6,503.4 517.1,500.0 523.5,493.8 530.0,500.8 536.5,496.9 542.9,496.9 549.4,495.6 555.9,500.0 562.4,500.0 568.0,500.0 574.5,493.8 581.0,488.7 586.9,481.4 593.4,478.3 599.2,476.5 605.9,482.7 612.0,495.1 618.5,496.4 624.9,487.4 631.4,491.2 637.9,486.6 644.4,487.4 650.8,486.6 656.8,480.6 663.2,485.3 669.5,496.2 675.9,492.3" fill="none" stroke="#5f85e6" stroke-width="1"/>
<line x1="676" y1="493" x2="776" y2="493" stroke="#6f8fe0" stroke-width="1" stroke-dasharray="1.2,2.8"/>
<path d="M11,552 V546 H776 V552" fill="none" stroke="#a5a5ab" stroke-width="1.8"/>
<text x="253" y="563" font-size="11" fill="#777">Mar 24</text>
<text x="538" y="563" font-size="11" fill="#777">Mar 26</text>
<text x="665" y="563" font-size="11" fill="#777">Mar 28</text>
<text x="739" y="563" font-size="11" fill="#777">Apr 8</text>
</svg>
</body></html>
